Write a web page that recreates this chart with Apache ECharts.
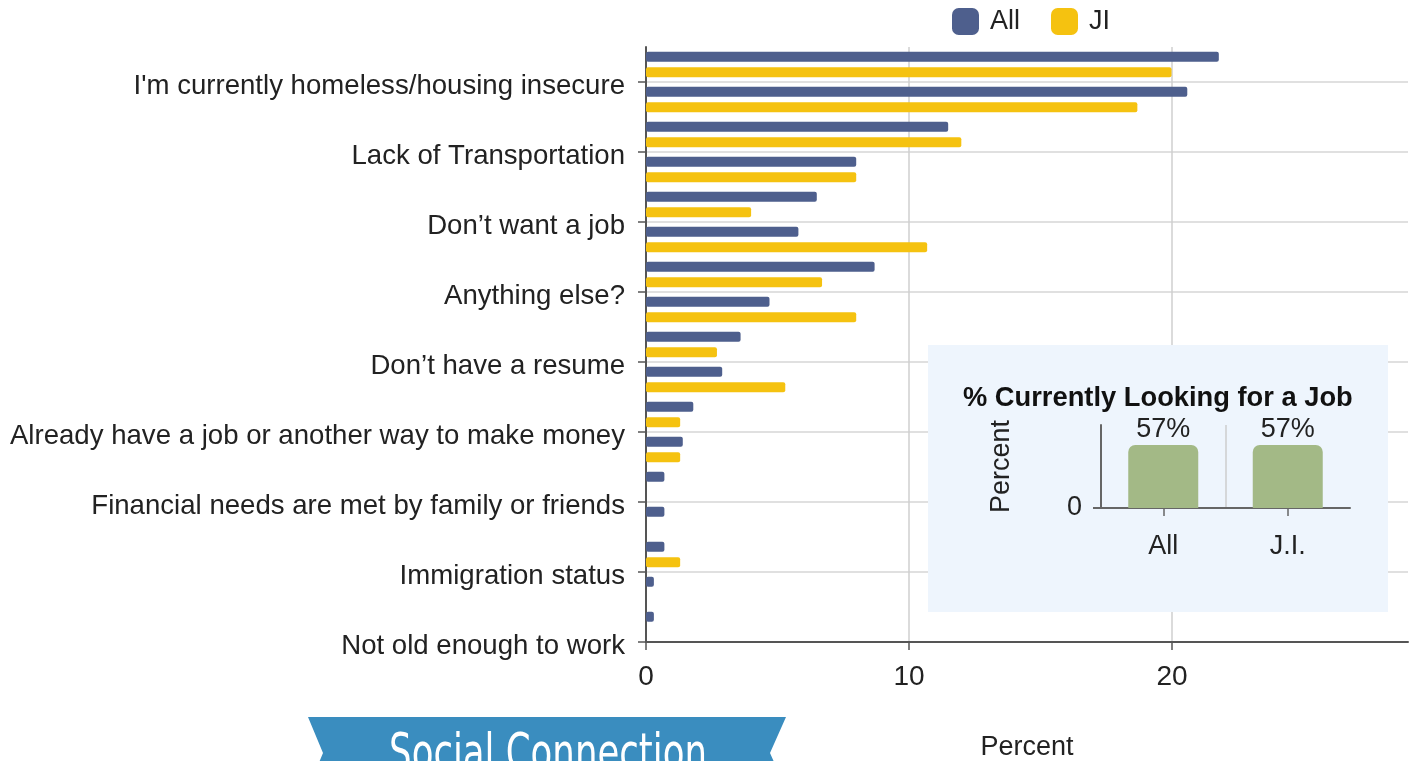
<!DOCTYPE html>
<html>
<head>
<meta charset="utf-8">
<script src="https://cdn.jsdelivr.net/npm/echarts@6/dist/echarts.min.js"></script>
<style>
html,body{margin:0;padding:0;background:#fff;}
#c{width:1416px;height:761px;}
</style>
</head>
<body>
<div id="c"></div>
<script>
// ---- data ----
const reasonLabels = [
  "I'm currently homeless/housing insecure",
  "Lack of Transportation",
  "Don’t want a job",
  "Anything else?",
  "Don’t have a resume",
  "Already have a job or another way to make money",
  "Financial needs are met by family or friends",
  "Immigration status",
  "Not old enough to work"
];
const rowIds = ['1','2','3','4','5','6','7','8','9','10','11','12','13','14','15','16','17'];
const allValues = [21.8, 20.6, 11.5, 8.0, 6.5, 5.8, 8.7, 4.7, 3.6, 2.9, 1.8, 1.4, 0.7, 0.7, 0.7, 0.3, 0.3];
const jiValues  = [20.0, 18.7, 12.0, 8.0, 4.0, 10.7, 6.7, 8.0, 2.7, 5.3, 1.3, 1.3, 0, 0, 1.3, 0, 0];
const seriesNames = ['All', 'JI'];
const insetCategories = ['All', 'J.I.'];
const insetValues = [57, 57];
const insetTitle = '% Currently Looking for a Job';
const axisTitle = 'Percent';
const bannerText = 'Social Connection';

// ---- chart ----
const FONT = '"Liberation Sans", Arial, Helvetica, sans-serif';
const BLUE = '#4e5f8d', YELLOW = '#f5c210', GREEN = '#a3b986';
const chart = echarts.init(document.getElementById('c'), null, {renderer: 'canvas'});

const option = {
  animation: false,
  backgroundColor: '#ffffff',
  textStyle: {fontFamily: FONT},
  title: {
    text: insetTitle, left: 963, top: 385, padding: 0, z: 10,
    textStyle: {fontSize: 27.3, fontWeight: 'bold', color: '#111', fontFamily: FONT}
  },
  legend: {
    data: seriesNames, left: 952, top: 8, padding: 0, itemWidth: 27, itemHeight: 27, itemGap: 31,
    icon: 'roundRect',
    textStyle: {fontSize: 27, color: '#222', padding: [0, 0, 0, 6], fontFamily: FONT}
  },
  grid: [
    {left: 646, top: 47, width: 762, height: 595, outerBoundsMode: 'none', containLabel: false},
    {left: 646, top: 82, width: 762, height: 560, outerBoundsMode: 'none', containLabel: false},
    {left: 646, top: 47, width: 526, height: 595, outerBoundsMode: 'none', containLabel: false},
    {left: 1101, top: 425, width: 249, height: 83, outerBoundsMode: 'none', containLabel: false}
  ],
  xAxis: [
    {gridIndex: 0, type: 'value', min: 0, max: 29,
     axisLine: {show: true, lineStyle: {color: '#555', width: 2}},
     axisTick: {show: false}, axisLabel: {show: false}, splitLine: {show: false},
     name: axisTitle, nameLocation: 'middle', nameGap: 92,
     nameTextStyle: {fontSize: 27, color: '#222', fontFamily: FONT}},
    {gridIndex: 1, type: 'value', min: 0, max: 29, show: false},
    {gridIndex: 2, type: 'value', min: 0, max: 20, interval: 10,
     axisLine: {show: false},
     axisTick: {show: true, length: 8, lineStyle: {color: '#555', width: 1.5}},
     axisLabel: {fontSize: 28, color: '#222', margin: 21, fontFamily: FONT},
     splitLine: {show: true, lineStyle: {color: '#cfcfcf', width: 1.5}}},
    {gridIndex: 3, type: 'category', data: insetCategories, z: 10,
     axisLine: {show: true, lineStyle: {color: '#666', width: 2}},
     axisTick: {show: true, alignWithLabel: true, length: 8, lineStyle: {color: '#666', width: 1.5}},
     axisLabel: {fontSize: 27, color: '#222', margin: 25, fontFamily: FONT},
     splitLine: {show: true, showMinLine: false, showMaxLine: false, lineStyle: {color: '#cccccc', width: 1.5}}}
  ],
  yAxis: [
    {gridIndex: 0, type: 'category', data: rowIds, inverse: true,
     axisLine: {show: true, lineStyle: {color: '#555', width: 2}},
     axisTick: {show: false}, axisLabel: {show: false}, splitLine: {show: false}},
    {gridIndex: 1, type: 'category', data: reasonLabels, inverse: true, boundaryGap: false,
     axisLine: {show: false},
     axisTick: {show: true, length: 8, interval: 0, lineStyle: {color: '#555', width: 1.5}},
     axisLabel: {interval: 0, fontSize: 27.6, color: '#222', margin: 21, fontFamily: FONT,
                 verticalAlign: 'top', lineHeight: 9},
     splitLine: {show: true, interval: 0, lineStyle: {color: '#e0e0e0', width: 2}}},
    {gridIndex: 2, type: 'value', show: false},
    {gridIndex: 3, type: 'value', min: 0, max: 75, interval: 75, z: 10,
     axisLine: {show: true, lineStyle: {color: '#666', width: 2}},
     axisTick: {show: true, length: 8, customValues: [0], lineStyle: {color: '#666', width: 2}},
     axisLabel: {fontSize: 27, color: '#222', margin: 19, customValues: [0], fontFamily: FONT},
     splitLine: {show: false},
     name: axisTitle, nameLocation: 'middle', nameRotate: 90, nameGap: 86,
     nameTextStyle: {fontSize: 27, color: '#222', fontFamily: FONT}}
  ],
  series: [
    {name: seriesNames[0], type: 'bar', xAxisIndex: 0, yAxisIndex: 0, data: allValues,
     barWidth: 10, barGap: '55%', itemStyle: {color: BLUE, borderRadius: 2}},
    {name: seriesNames[1], type: 'bar', xAxisIndex: 0, yAxisIndex: 0, data: jiValues,
     barWidth: 10, barGap: '55%', itemStyle: {color: YELLOW, borderRadius: 2}},
    {name: 'inset', type: 'bar', xAxisIndex: 3, yAxisIndex: 3, data: insetValues, z: 10,
     barWidth: 70, itemStyle: {color: GREEN, borderRadius: [7, 7, 0, 0]},
     label: {show: true, position: 'top', distance: 2, formatter: '{c}%', fontSize: 27, color: '#222', fontFamily: FONT}}
  ],
  graphic: [
    {type: 'rect', z: 5, silent: true, shape: {x: 928, y: 345, width: 460, height: 267},
     style: {fill: '#eef5fd'}},
    {type: 'polygon', z: 5, silent: true,
     shape: {points: [[308, 717], [786, 717], [770, 753], [786, 789], [308, 789], [323, 753]]},
     style: {fill: '#3a8dbf'}},
    {type: 'text', z: 6, silent: true, x: 548, y: 730, scaleX: 0.76,
     style: {text: bannerText, textAlign: 'center', textVerticalAlign: 'top',
             font: '52px "DejaVu Sans Condensed", "Liberation Sans Narrow", sans-serif', fill: '#ffffff'}}
  ]
};
chart.setOption(option);
</script>
</body>
</html>
